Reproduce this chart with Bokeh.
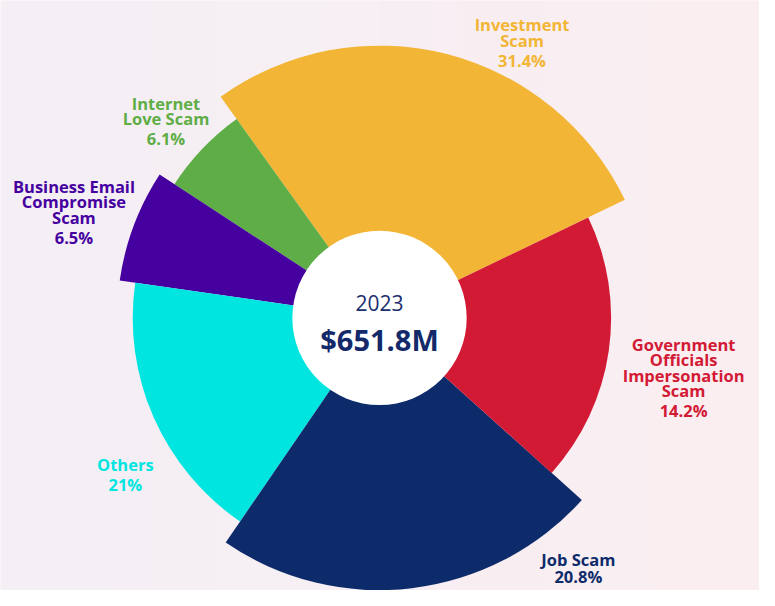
import numpy as np
from bokeh.plotting import figure
from bokeh.models import Range1d
from bokeh.embed import file_html
from bokeh.resources import INLINE
from bokeh.core.properties import value

# ---------------- data ----------------
categories = ["Investment Scam", "Internet Love Scam", "Business Email Compromise Scam",
              "Others", "Job Scam", "Government Officials Impersonation Scam"]
pct_labels = ["31.4%", "6.1%", "6.5%", "21%", "20.8%", "14.2%"]
angle_spans_deg = [100.0, 21.2, 24.9, 63.8, 82.4, 67.7]   # slice widths as drawn
radius_values = [278, 250, 268, 252, 278, 236.5]           # slice lengths as drawn
label_lines = [["Investment", "Scam"], ["Internet", "Love Scam"],
               ["Business Email", "Compromise", "Scam"], ["Others"], ["Job Scam"],
               ["Government", "Officials", "Impersonation", "Scam"]]
year_label = "2023"
total_label = "$651.8M"

# ---------------- styling / layout ----------------
colors = ["#F2B535", "#5FAD46", "#46009F", "#00E5DF", "#0D2B6B", "#D31A35"]
W, H = 775, 606
CX, CY = 387, 326          # centre in reference pixels
HOLE_R = 89
START_DEG = 25.7
label_anchor = [(532.5, 25), (169, 105.7), (75, 190.7), (127.5, 477), (590, 574), (697.5, 353)]
LINE_STEP = 16
PCT_GAP = [20.5, 20.5, 20.5, 20.5, 17.5, 20.5]

def sy(y):
    return H - y

p = figure(width=759, height=590, output_backend="svg", toolbar_location=None,
           x_range=Range1d(0, W), y_range=Range1d(0, H),
           min_border=0, x_axis_location=None, y_axis_location=None)
p.grid.visible = False
p.outline_line_color = None
p.background_fill_color = "#F7EFF3"
p.border_fill_color = "#F7EFF3"

# subtle horizontal gradient background
n = 256
t = np.linspace(0, 1, n)
left = np.array([244, 240, 246]); right = np.array([251, 238, 241])
img = np.empty((1, n), dtype=np.uint32)
view = img.view(dtype=np.uint8).reshape((1, n, 4))
for k in range(3):
    view[0, :, k] = (left[k] + (right[k] - left[k]) * t).astype(np.uint8)
view[0, :, 3] = 255
p.image_rgba(image=[img], x=0, y=0, dw=W, dh=H)

# slices
starts, ends = [], []
a = START_DEG
for s in angle_spans_deg:
    starts.append(np.radians(a))
    ends.append(np.radians(a + s))
    a += s
p.wedge(x=[CX] * len(categories), y=[sy(CY)] * len(categories), radius=radius_values,
        start_angle=starts, end_angle=ends,
        fill_color=colors, line_color=None)

# centre hole
p.circle(x=[CX], y=[sy(CY)], radius=HOLE_R, fill_color="white", line_color=None)

p.text(x=[CX], y=[sy(310.7)], text=[year_label], text_align="center",
       text_baseline="alphabetic", text_font=value("Open Sans"), text_font_size="21px",
       text_color="#1B2F6E")
p.text(x=[CX], y=[sy(348.3)], text=[total_label], text_align="center",
       text_baseline="alphabetic", text_font=value("Open Sans"), text_font_size="29px",
       text_font_style="bold", text_color="#13296A")

# labels
tx, ty, tt, tc = [], [], [], []
for i, lines in enumerate(label_lines):
    x0, y0 = label_anchor[i]
    for j, ln in enumerate(lines):
        tx.append(x0); ty.append(sy(y0 + j * LINE_STEP)); tt.append(ln); tc.append(colors[i])
    last = y0 + (len(lines) - 1) * LINE_STEP
    tx.append(x0); ty.append(sy(last + PCT_GAP[i])); tt.append(pct_labels[i]); tc.append(colors[i])
p.text(x=tx, y=ty, text=tt, text_color=tc, text_align="center", text_baseline="alphabetic",
       text_font=value("Open Sans"), text_font_size="16.5px", text_font_style="bold")

open("out.html", "w").write(file_html(p, INLINE))
